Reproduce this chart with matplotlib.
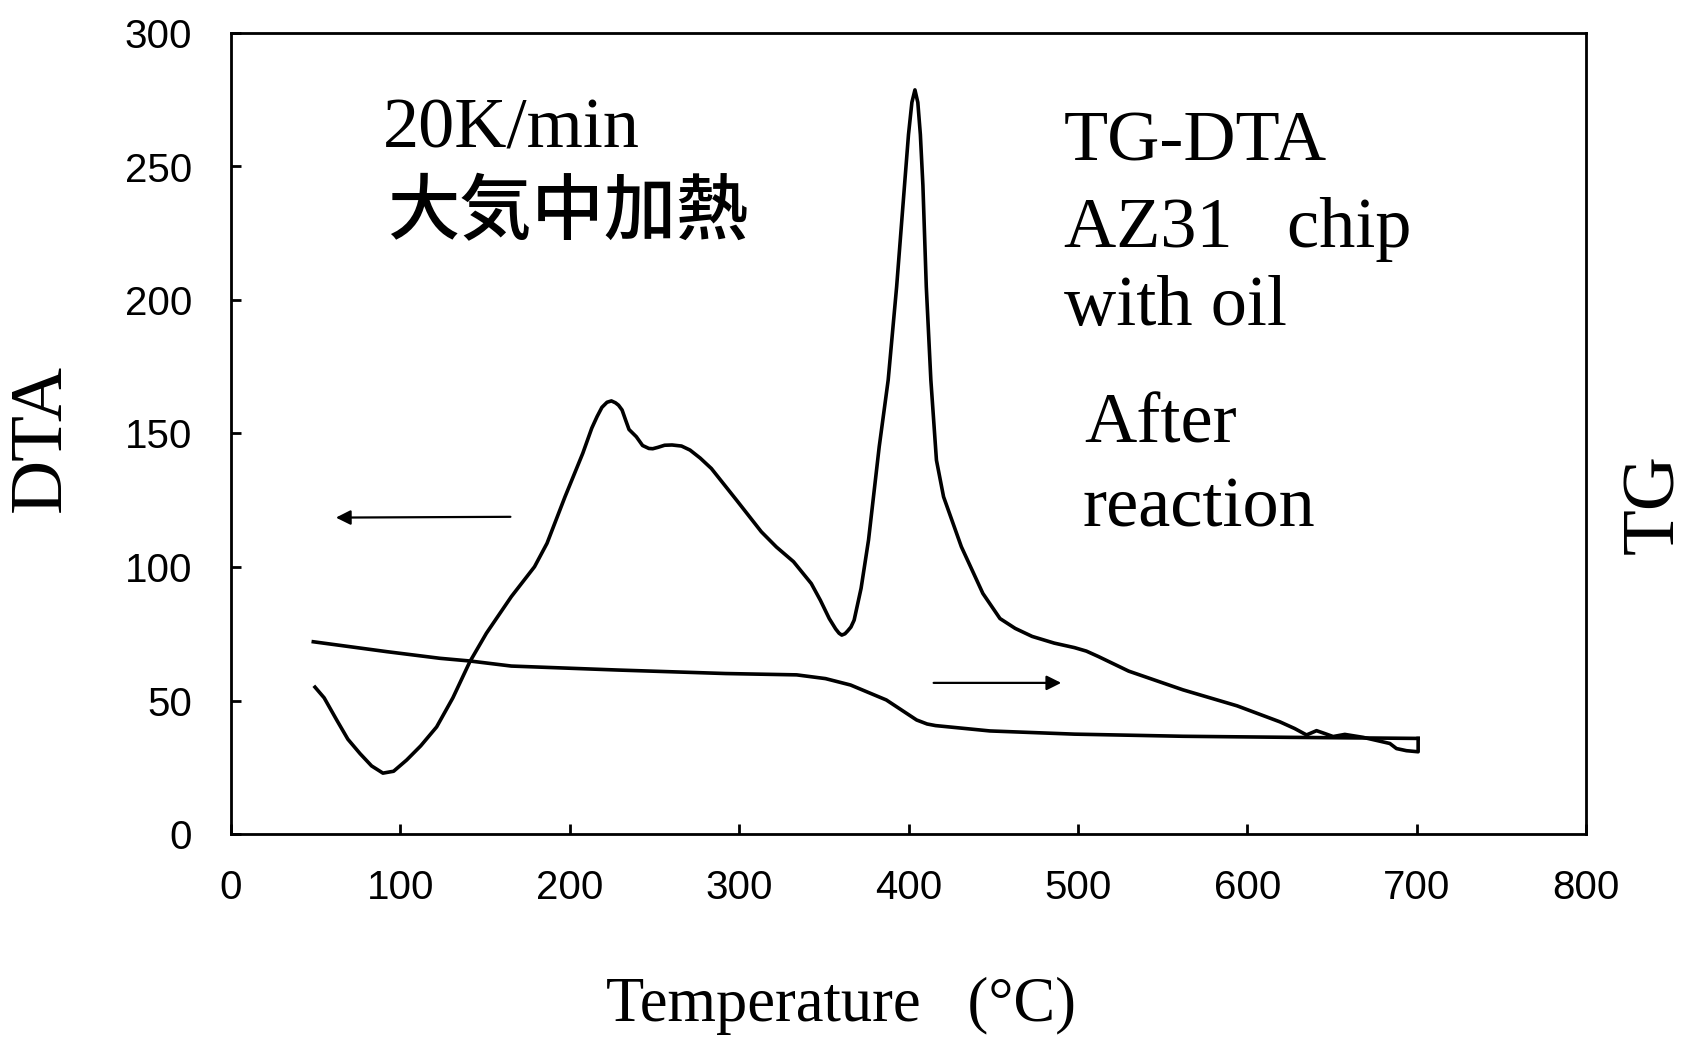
import matplotlib
matplotlib.use('Agg')
from matplotlib import pyplot as plt
import numpy as np

# DTA curve
dta_t = [49.6, 55, 62.4, 69, 76.2, 83, 89.7, 96, 103.7, 112, 121.4, 131, 141, 150.8, 165.5,
         179.2, 186.6, 197.2, 207.7, 213, 216.1, 219, 222, 224.6, 227, 228.8, 230.9, 233, 235,
         239.3, 243, 246.7, 249, 252, 256, 260.4, 266, 271, 277, 283.6, 298.4, 313.1, 322, 332.1,
         342.6, 348, 353.2, 357, 359, 360.6, 362.5, 364, 366, 367.9, 372, 376.4, 382.7, 388, 393,
         397.9, 400, 402, 403.8, 405.5, 407, 408.5, 410.5, 413.2, 416.5, 420.7, 431.2, 443.9,
         454, 463, 473, 486, 498, 505, 512, 530, 562, 594, 619.3, 628, 635, 640.9, 645, 650.7,
         657.6, 668.4, 684.2, 688.1, 694, 700.9, 700.9]
dta_v = [55, 51, 42.7, 35.5, 30.1, 25.5, 22.8, 23.5, 27.7, 33, 40.1, 51, 64.5, 75.2, 88.9,
         100.1, 108.9, 126.3, 142.6, 152, 156.3, 159.8, 161.7, 162.2, 161.5, 160.6, 158.8, 155, 151.5,
         148.8, 145.5, 144.4, 144.3, 144.8, 145.6, 145.7, 145.3, 143.8, 140.8, 136.9, 125.1, 113.2, 107.5, 102,
         93.8, 87.5, 80.7, 76.8, 75.2, 74.5, 75, 76, 77.5, 80.1, 92, 110.1, 145, 170, 205,
         245, 262, 274, 278.7, 274, 262, 243, 205, 170, 140, 126.3, 107.6, 90.1,
         80.7, 77, 74, 71.5, 69.8, 68.5, 66.5, 61, 54, 48, 42, 39.5, 37.1, 38.7, 37.8, 36.5,
         37.3, 36.2, 33.9, 32, 31.2, 30.8, 35.8]

# TG curve
tg_t = [48.6, 91.9, 123.4, 141, 165.5, 228.8, 292, 334, 351, 365.8, 386.9, 404.8, 411, 416,
        448, 498, 562, 625, 700.9]
tg_v = [72, 68.3, 65.8, 64.8, 62.9, 61.4, 60.1, 59.6, 58.2, 55.8, 50.2, 42.7, 41.2, 40.6,
        38.6, 37.4, 36.6, 36.2, 35.8]

x_ticks = [0, 100, 200, 300, 400, 500, 600, 700, 800]
y_ticks = [0, 50, 100, 150, 200, 250, 300]

serif = 'Liberation Serif'
sans = 'Liberation Sans'

fig = plt.figure(figsize=(16.86, 10.37), dpi=100)
ax = fig.add_axes([231/1686, 1-834/1037, (1586-231)/1686, (834-33)/1037])
ax.plot(dta_t, dta_v, color='black', lw=2.6, solid_joinstyle='round')
ax.set_xlim(0, 800)
ax.set_ylim(0, 300)
ax.set_xticks(x_ticks)
ax.set_yticks(y_ticks)
ax.tick_params(direction='in', length=7.5, width=2, labelsize=29)
ax.tick_params(axis='y', pad=28)
ax.tick_params(axis='x', pad=25)
for lab in ax.get_xticklabels() + ax.get_yticklabels():
    lab.set_fontfamily(sans)
for s in ax.spines.values():
    s.set_linewidth(2)

ax2 = ax.twinx()
ax2.plot(tg_t, tg_v, color='black', lw=2.6, solid_joinstyle='round')
ax2.set_ylim(0, 300)
ax2.set_yticks([])

# arrows
ax.annotate('', xy=(60.3, 118.5), xytext=(166.6, 118.8),
            arrowprops=dict(arrowstyle='-|>', lw=1.6, color='black', mutation_scale=22))
ax.annotate('', xy=(491.8, 56.6), xytext=(413.2, 56.6),
            arrowprops=dict(arrowstyle='-|>', lw=1.6, color='black', mutation_scale=22))

# notes
ax.text(89.7, 257.3, '20K/min', fontfamily=serif, fontsize=52, va='baseline')
ax.text(92.0, 232.5, '大気中加熱', fontfamily='Noto Sans CJK JP', fontweight=500,
        fontsize=52, va='center')
ax.text(491.7, 252.4, 'TG-DTA', fontfamily=serif, fontsize=52, va='baseline')
ax.text(491.7, 219.9, 'AZ31   chip', fontfamily=serif, fontsize=52, va='baseline')
ax.text(491.7, 190.5, 'with oil', fontfamily=serif, fontsize=52, va='baseline')
ax.text(504.0, 146.8, 'After', fontfamily=serif, fontsize=52, va='baseline')
ax.text(503.0, 115.0, 'reaction', fontfamily=serif, fontsize=52, va='baseline')

# axis titles
fig.text(42/1686, 1-437.5/1037, 'DTA', fontfamily=serif, fontsize=54, rotation=90,
         ha='center', va='center')
fig.text(1655/1686, 1-504/1037, 'TG', fontfamily=serif, fontsize=54, rotation=90,
         ha='center', va='center')
fig.text(841/1686, 16/1037, 'Temperature   (°C)', fontfamily=serif, fontsize=45,
         ha='center', va='baseline')

fig.savefig('out.png', dpi=100)
